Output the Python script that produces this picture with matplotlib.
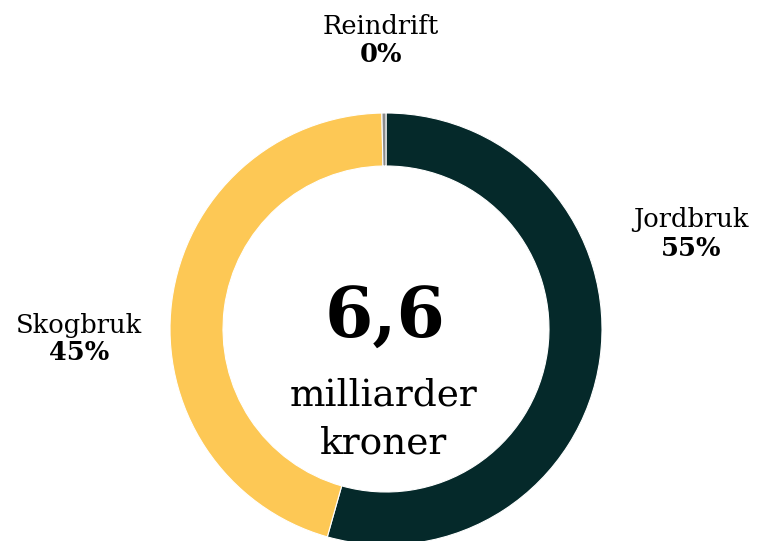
import matplotlib
matplotlib.use("Agg")
import matplotlib.pyplot as plt

# Data (milliarder kroner)
kategorier = ["Jordbruk", "Skogbruk", "Reindrift"]
verdier = [3.6, 3.0, 0.02]
prosent_tekst = ["55%", "45%", "0%"]
farger = ["#05292a", "#fdc855", "#8c8c8c"]
total_tekst = "6,6"

W, H = 760, 541
fig = plt.figure(figsize=(W / 100, H / 100), dpi=100)
ax = fig.add_axes([0, 0, 1, 1])
ax.set_xlim(0, W)
ax.set_ylim(0, H)
ax.set_aspect("equal")
ax.axis("off")

cx, cy, r = 386, H - 329, 216
ax.pie(verdier, colors=farger, startangle=90, counterclock=False,
       center=(cx, cy), radius=r,
       wedgeprops=dict(width=53, edgecolor="white", linewidth=0.8))
ax.set_xlim(0, W)
ax.set_ylim(0, H)

serif = "DejaVu Serif"

# Etiketter
pos = {"Jordbruk": (691, 220), "Skogbruk": (79, 325), "Reindrift": (381, 26)}
for navn, pst in zip(kategorier, prosent_tekst):
    x, y = pos[navn]
    ax.text(x, H - y, navn, ha="center", va="center", fontsize=18.5, family=serif)
    ax.text(x, H - y - 28, pst, ha="center", va="center", fontsize=18.5,
            fontweight="bold", family=serif)

# Midtre tekst
ax.text(385, H - 318, total_tekst, ha="center", va="center", fontsize=50,
        fontweight="bold", family=serif)
ax.text(384, H - 395, "milliarder", ha="center", va="center", fontsize=27, family=serif)
ax.text(384, H - 443, "kroner", ha="center", va="center", fontsize=27, family=serif)

fig.savefig("out.png", dpi=100)
